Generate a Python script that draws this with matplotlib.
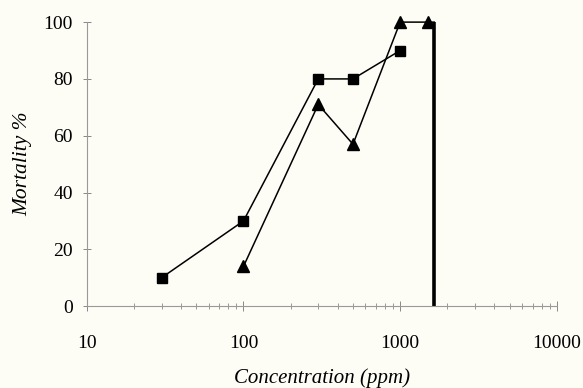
import numpy as np
import matplotlib.pyplot as plt
from matplotlib.ticker import LogLocator, NullFormatter, FixedLocator

# data
conc_sq = [30, 100, 300, 500, 1000]
mort_sq = [10, 30, 80, 80, 90]
conc_tri = [100, 300, 500, 1000, 1500]
mort_tri = [14, 71, 57, 100, 100]
cutoff_x = [1650, 1650]
cutoff_y = [100, 0]

xticks = [10, 100, 1000, 10000]
xticklabels = ['10', '100', '1000', '10000']
yticks = [0, 20, 40, 60, 80, 100]

plt.rcParams['font.family'] = ['Liberation Serif', 'DejaVu Serif']
bg = '#fdfdf6'

fig = plt.figure(figsize=(5.83, 3.88), dpi=100, facecolor=bg)
ax = fig.add_axes([0.149, 0.211, 0.806, 0.732], facecolor=bg)

ax.plot(conc_sq, mort_sq, color='black', lw=1.1, marker='s', ms=7.5, clip_on=False)
# last triangle segment joins the thick vertical line
ax.plot(conc_tri + [cutoff_x[0]], mort_tri + [cutoff_y[0]], color='black', lw=1.1,
        marker='^', ms=8.5, markevery=list(range(len(conc_tri))), clip_on=False)
ax.plot(cutoff_x, cutoff_y, color='black', lw=2.6, clip_on=False, solid_capstyle='butt')

ax.set_xscale('log')
ax.set_xlim(10, 10000)
ax.set_ylim(0, 100)
ax.xaxis.set_major_locator(FixedLocator(xticks))
ax.set_xticklabels(xticklabels)
ax.xaxis.set_minor_locator(LogLocator(base=10, subs=np.arange(2, 10)))
ax.xaxis.set_minor_formatter(NullFormatter())
ax.set_yticks(yticks)

for s in ['top', 'right']:
    ax.spines[s].set_visible(False)
for s in ['left', 'bottom']:
    ax.spines[s].set_color('#9a9a9a')
    ax.spines[s].set_linewidth(0.8)

ax.tick_params(axis='both', which='both', direction='inout', colors='#888888',
               labelcolor='black', labelsize=14)
ax.tick_params(axis='y', which='major', length=6, width=0.7, pad=7)
ax.tick_params(axis='x', which='major', length=7, width=0.7, pad=17)
ax.tick_params(axis='x', which='minor', length=4, width=0.6)

ax.set_xlabel('Concentration (ppm)', fontsize=15, style='italic', labelpad=12)
ax.set_ylabel('Mortality %', fontsize=15.5, style='italic', labelpad=8)

fig.savefig('out.png', dpi=100, facecolor=bg)
